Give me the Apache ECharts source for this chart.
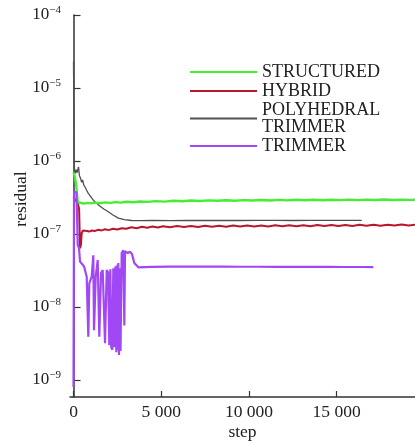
<!DOCTYPE html>
<html>
<head>
<meta charset="utf-8">
<script src="https://cdn.jsdelivr.net/npm/echarts@6/dist/echarts.min.js"></script>
<style>
  html, body { margin: 0; padding: 0; background: #fff; }
  #chart { width: 415px; height: 443px; }
</style>
</head>
<body>
<div id="chart"></div>
<script>
// Residual history per mesh type: [step, residual]
const seriesNames = ['STRUCTURED', 'HYBRID', 'POLYHEDRAL\nTRIMMER', 'TRIMMER'];

const structured = [
  [0, 7.0e-7], [60, 6.3e-7], [150, 4.8e-7], [240, 2.72e-7], [320, 2.62e-7], [450, 2.66e-7],
  [600, 2.61e-7], [800, 2.67e-7], [1000, 2.63e-7], [1250, 2.69e-7], [1500, 2.64e-7],
  [1800, 2.71e-7], [2100, 2.67e-7], [2400, 2.73e-7], [2700, 2.69e-7], [3000, 2.76e-7],
  [3400, 2.72e-7], [3800, 2.79e-7], [4200, 2.75e-7], [4700, 2.82e-7], [5200, 2.78e-7],
  [5700, 2.85e-7], [6200, 2.81e-7], [6700, 2.87e-7], [7200, 2.83e-7], [7700, 2.89e-7],
  [8200, 2.85e-7], [8700, 2.90e-7], [9200, 2.86e-7], [9700, 2.91e-7], [10200, 2.87e-7],
  [10700, 2.92e-7], [11200, 2.88e-7], [11700, 2.93e-7], [12200, 2.89e-7], [12700, 2.94e-7],
  [13200, 2.90e-7], [13700, 2.95e-7], [14200, 2.90e-7], [14700, 2.95e-7], [15200, 2.91e-7],
  [15700, 2.96e-7], [16200, 2.91e-7], [16700, 2.96e-7], [17200, 2.92e-7], [17700, 2.97e-7],
  [18200, 2.92e-7], [18700, 2.96e-7], [19200, 2.93e-7], [19700, 2.95e-7]
];

const hybrid = [
  [0, 3.2e-7], [120, 2.9e-7], [240, 2.65e-7], [320, 2.2e-7], [370, 6.4e-8], [420, 7.0e-8],
  [470, 1.04e-7], [540, 1.12e-7], [650, 1.07e-7], [780, 1.10e-7], [900, 1.08e-7],
  [1050, 1.12e-7], [1200, 1.10e-7], [1400, 1.14e-7], [1600, 1.12e-7], [1800, 1.16e-7],
  [2000, 1.13e-7], [2250, 1.18e-7], [2500, 1.15e-7], [2750, 1.20e-7], [3000, 1.18e-7],
  [3300, 1.24e-7], [3600, 1.20e-7], [3900, 1.26e-7], [4200, 1.22e-7], [4500, 1.27e-7],
  [4800, 1.23e-7], [5100, 1.28e-7], [5500, 1.24e-7], [5900, 1.29e-7], [6300, 1.25e-7],
  [6700, 1.29e-7], [7100, 1.25e-7], [7500, 1.30e-7], [7900, 1.26e-7], [8300, 1.30e-7],
  [8700, 1.26e-7], [9100, 1.31e-7], [9500, 1.27e-7], [9900, 1.31e-7], [10300, 1.27e-7],
  [10700, 1.31e-7], [11100, 1.27e-7], [11500, 1.32e-7], [11900, 1.28e-7], [12300, 1.32e-7],
  [12700, 1.28e-7], [13100, 1.32e-7], [13500, 1.28e-7], [13900, 1.33e-7], [14300, 1.29e-7],
  [14700, 1.33e-7], [15100, 1.29e-7], [15500, 1.33e-7], [15900, 1.29e-7], [16300, 1.34e-7],
  [16700, 1.30e-7], [17100, 1.34e-7], [17500, 1.30e-7], [17900, 1.34e-7], [18300, 1.31e-7],
  [18700, 1.35e-7], [19100, 1.31e-7], [19500, 1.34e-7]
];

const polyhedralTrimmer = [
  [0, 2.3e-5], [40, 8.5e-7], [85, 6.7e-7], [150, 7.6e-7], [200, 6.9e-7], [285, 8.3e-7],
  [340, 6.3e-7], [400, 5.8e-7], [467, 5.1e-7], [520, 5.5e-7], [581, 4.7e-7], [620, 4.9e-7],
  [655, 4.4e-7], [740, 4.0e-7], [844, 3.6e-7], [980, 3.25e-7], [1130, 2.9e-7],
  [1300, 2.65e-7], [1510, 2.4e-7], [1750, 2.18e-7], [1984, 2.02e-7], [2250, 1.82e-7],
  [2554, 1.65e-7], [2900, 1.57e-7], [3318, 1.53e-7], [3800, 1.52e-7], [4500, 1.53e-7],
  [5500, 1.52e-7], [6500, 1.53e-7], [7500, 1.53e-7], [8500, 1.54e-7], [9500, 1.53e-7],
  [10500, 1.54e-7], [11500, 1.54e-7], [12500, 1.53e-7], [13500, 1.54e-7], [14500, 1.54e-7],
  [15500, 1.54e-7], [16430, 1.54e-7]
];

const trimmer = [
  [0, 8.0e-10], [30, 3.8e-7], [170, 3.7e-7], [240, 7.1e-8], [314, 6.4e-8], [370, 4.2e-8],
  [467, 4.4e-8], [600, 3.6e-8], [752, 2.6e-8], [844, 3.9e-9], [900, 2.1e-8], [1037, 2.6e-8],
  [1129, 5.1e-8], [1169, 4.8e-9], [1265, 2.6e-8], [1379, 4.4e-8], [1471, 3.9e-9],
  [1568, 2.9e-8], [1664, 3.2e-8], [1796, 3.2e-9], [1892, 3.2e-8], [1967, 3.0e-8],
  [2041, 3.0e-9], [2100, 3.3e-8], [2150, 2.8e-9], [2212, 2.6e-9], [2269, 3.4e-8],
  [2330, 2.8e-9], [2390, 3.6e-8], [2440, 2.4e-9], [2500, 3.8e-8], [2530, 2.6e-9],
  [2554, 4.0e-8], [2594, 2.2e-9], [2630, 3.4e-8], [2680, 2.5e-9], [2747, 5.5e-8],
  [2839, 6.0e-8], [2896, 5.6e-9], [2936, 5.8e-8], [3089, 5.5e-8], [3221, 5.7e-8],
  [3335, 5.3e-8], [3466, 4.0e-8], [3694, 3.5e-8], [4457, 3.55e-8], [5500, 3.58e-8],
  [6500, 3.57e-8], [7500, 3.58e-8], [8500, 3.57e-8], [9500, 3.56e-8], [10500, 3.56e-8],
  [11500, 3.55e-8], [12500, 3.55e-8], [13500, 3.54e-8], [14500, 3.54e-8], [15500, 3.53e-8],
  [16500, 3.53e-8], [17090, 3.52e-8]
];

const seriesData = [structured, hybrid, polyhedralTrimmer, trimmer];
const seriesColors = ['#45ee30', '#b8172c', '#505050', '#a247f4'];
const seriesWidths = [2.4, 2, 1.3, 2.2];
const drawOrder = [2, 1, 0, 3];

const xTicks = [0, 5000, 10000, 15000];
const yExponents = [-9, -8, -7, -6, -5, -4];

const serif = "'Liberation Serif', 'Times New Roman', serif";
const ink = '#222';

const chart = echarts.init(document.getElementById('chart'), null, { renderer: 'canvas' });

chart.setOption({
  animation: false,
  backgroundColor: '#fff',
  grid: { left: 70, right: 0, top: 15, bottom: 46, containLabel: false, outerBoundsMode: 'none' },
  legend: {
    orient: 'vertical',
    left: 190,
    top: 63,
    padding: 0,
    itemWidth: 67,
    itemHeight: 2,
    itemGap: 1,
    icon: 'rect',
    data: seriesNames,
    textStyle: { fontFamily: serif, fontSize: 18, lineHeight: 17, color: ink }
  },
  xAxis: {
    type: 'value',
    min: -200,
    max: 19465,
    name: 'step',
    nameLocation: 'middle',
    nameGap: 26,
    nameMoveOverlap: false,
    nameTextStyle: { fontFamily: serif, fontSize: 17.5, color: ink },
    axisLine: { lineStyle: { color: '#333', width: 1.5 } },
    axisTick: { inside: true, length: 6, customValues: xTicks, lineStyle: { color: '#333', width: 1.2 } },
    axisLabel: {
      customValues: xTicks,
      margin: 6,
      fontFamily: serif,
      fontSize: 17.5,
      color: ink,
      formatter: v => v === 0 ? '0' : String(v).replace(/(\d)(?=(\d{3})+$)/g, '$1 ')
    },
    splitLine: { show: false }
  },
  yAxis: {
    type: 'value',
    min: -9.233,
    max: -4,
    name: 'residual',
    nameLocation: 'middle',
    nameRotate: 90,
    nameGap: 40,
    nameMoveOverlap: false,
    nameTextStyle: { fontFamily: serif, fontSize: 17.5, color: ink, padding: [0, 0, 0, 14] },
    axisLine: { show: true, lineStyle: { color: '#333', width: 1.5 } },
    axisTick: { show: true, inside: true, length: 7, customValues: yExponents, lineStyle: { color: '#333', width: 1.2 } },
    axisLabel: {
      customValues: yExponents,
      margin: 9,
      formatter: v => '{b|10}{s|\u2212' + Math.abs(v) + '}',
      rich: {
        b: { fontFamily: serif, fontSize: 17, color: ink },
        s: { fontFamily: serif, fontSize: 11, color: ink, padding: [0, 0, 9, 0] }
      }
    },
    splitLine: { show: false }
  },
  series: drawOrder.map(i => ({
    name: seriesNames[i],
    type: 'line',
    showSymbol: false,
    symbol: 'none',
    z: 2 + drawOrder.indexOf(i),
    color: seriesColors[i],
    lineStyle: { color: seriesColors[i], width: seriesWidths[i] },
    data: seriesData[i].map(([step, r]) => [step, Math.log10(r)])
  }))
});
</script>
</body>
</html>
